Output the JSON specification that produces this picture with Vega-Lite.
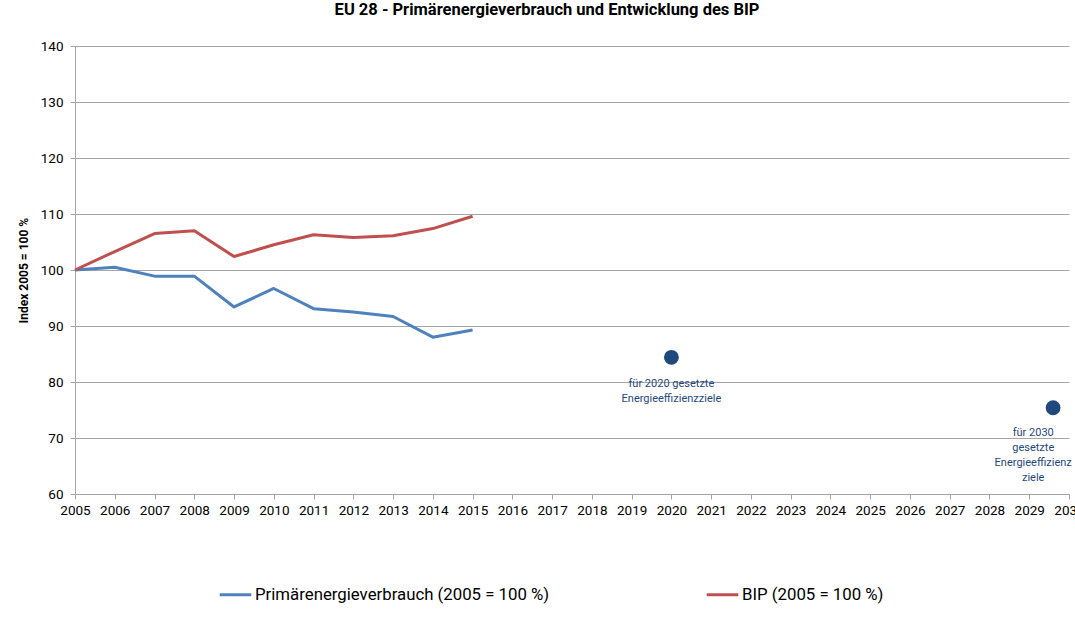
{
  "$schema": "https://vega.github.io/schema/vega-lite/v6.json",
  "width": 994,
  "height": 448,
  "autosize": {"type": "none"},
  "padding": {"left": 75, "top": 46, "right": 6, "bottom": 134},
  "background": "white",
  "config": {
    "font": "Roboto",
    "view": {"stroke": null},
    "axis": {"labelFont": "Roboto", "titleFont": "Roboto", "labelColor": "#000000", "titleColor": "#000000"}
  },
  "title": {
    "text": "EU 28 - Primärenergieverbrauch und Entwicklung des BIP",
    "font": "Roboto",
    "fontSize": 16.5,
    "fontWeight": "bold",
    "color": "#000000",
    "anchor": "middle",
    "dx": -25,
    "baseline": "alphabetic",
    "offset": 8
  },
  "encoding": {
    "x": {
      "field": "year",
      "type": "quantitative",
      "scale": {"domain": [2005, 2030], "nice": false, "zero": false},
      "axis": {
        "title": null,
        "values": [2005, 2006, 2007, 2008, 2009, 2010, 2011, 2012, 2013, 2014, 2015, 2016, 2017, 2018, 2019, 2020, 2021, 2022, 2023, 2024, 2025, 2026, 2027, 2028, 2029, 2030],
        "format": "d",
        "grid": false,
        "labelFontSize": 13.5,
        "labelPadding": 4,
        "labelOverlap": false,
        "labelFlush": false,
        "labelBound": false,
        "tickSize": 5,
        "tickColor": "#a6a6a6",
        "domainColor": "#a6a6a6"
      }
    },
    "y": {
      "field": "value",
      "type": "quantitative",
      "scale": {"domain": [60, 140], "nice": false, "zero": false},
      "axis": {
        "title": "Index 2005 = 100 %",
        "titleFontSize": 12,
        "titleFontWeight": "bold",
        "titlePadding": 10,
        "values": [60, 70, 80, 90, 100, 110, 120, 130, 140],
        "labelFontSize": 13.5,
        "labelPadding": 7,
        "tickSize": 5,
        "tickColor": "#a6a6a6",
        "domainColor": "#a6a6a6",
        "grid": true,
        "gridColor": "#a6a6a6",
        "gridWidth": 1
      }
    }
  },
  "layer": [
    {
      "data": {
        "values": [
          {"year": 2005, "series": "Primärenergieverbrauch (2005 = 100 %)", "value": 100.0},
          {"year": 2006, "series": "Primärenergieverbrauch (2005 = 100 %)", "value": 100.5},
          {"year": 2007, "series": "Primärenergieverbrauch (2005 = 100 %)", "value": 98.9},
          {"year": 2008, "series": "Primärenergieverbrauch (2005 = 100 %)", "value": 98.9},
          {"year": 2009, "series": "Primärenergieverbrauch (2005 = 100 %)", "value": 93.4},
          {"year": 2010, "series": "Primärenergieverbrauch (2005 = 100 %)", "value": 96.7},
          {"year": 2011, "series": "Primärenergieverbrauch (2005 = 100 %)", "value": 93.1},
          {"year": 2012, "series": "Primärenergieverbrauch (2005 = 100 %)", "value": 92.5},
          {"year": 2013, "series": "Primärenergieverbrauch (2005 = 100 %)", "value": 91.7},
          {"year": 2014, "series": "Primärenergieverbrauch (2005 = 100 %)", "value": 88.0},
          {"year": 2015, "series": "Primärenergieverbrauch (2005 = 100 %)", "value": 89.3},
          {"year": 2005, "series": "BIP (2005 = 100 %)", "value": 100.0},
          {"year": 2006, "series": "BIP (2005 = 100 %)", "value": 103.3},
          {"year": 2007, "series": "BIP (2005 = 100 %)", "value": 106.5},
          {"year": 2008, "series": "BIP (2005 = 100 %)", "value": 107.0},
          {"year": 2009, "series": "BIP (2005 = 100 %)", "value": 102.4},
          {"year": 2010, "series": "BIP (2005 = 100 %)", "value": 104.5},
          {"year": 2011, "series": "BIP (2005 = 100 %)", "value": 106.3},
          {"year": 2012, "series": "BIP (2005 = 100 %)", "value": 105.8},
          {"year": 2013, "series": "BIP (2005 = 100 %)", "value": 106.1},
          {"year": 2014, "series": "BIP (2005 = 100 %)", "value": 107.4},
          {"year": 2015, "series": "BIP (2005 = 100 %)", "value": 109.6}
        ]
      },
      "mark": {"type": "line", "strokeWidth": 3, "strokeJoin": "round"},
      "encoding": {
        "color": {
          "field": "series",
          "type": "nominal",
          "scale": {
            "domain": ["Primärenergieverbrauch (2005 = 100 %)", "BIP (2005 = 100 %)"],
            "range": ["#4F81BD", "#C0504D"]
          },
          "legend": {
            "title": null,
            "orient": "none",
            "direction": "horizontal",
            "legendX": 143,
            "legendY": 531,
            "symbolType": "stroke",
            "symbolSize": 1000,
            "symbolStrokeWidth": 3,
            "labelFontSize": 16.8,
            "labelFont": "Roboto",
            "labelColor": "#000000",
            "labelOffset": 2,
            "labelLimit": 400,
            "columnPadding": 150
          }
        }
      }
    },
    {
      "data": {
        "values": [
          {"year": 2020, "value": 84.4},
          {"year": 2029.6, "value": 75.4}
        ]
      },
      "mark": {"type": "circle", "size": 220, "color": "#1F497D", "opacity": 1}
    },
    {
      "data": {
        "values": [
          {"year": 2020, "value": 80.8, "label": "für 2020 gesetzte\nEnergieeffizienzziele"},
          {"year": 2029.1, "value": 72.0, "label": "für 2030\ngesetzte\nEnergieeffizienz\nziele"}
        ]
      },
      "mark": {"type": "text", "align": "center", "baseline": "top", "lineBreak": "\n", "lineHeight": 15, "fontSize": 11, "color": "#1F497D", "font": "Roboto"},
      "encoding": {
        "text": {"field": "label"}
      }
    }
  ]
}
